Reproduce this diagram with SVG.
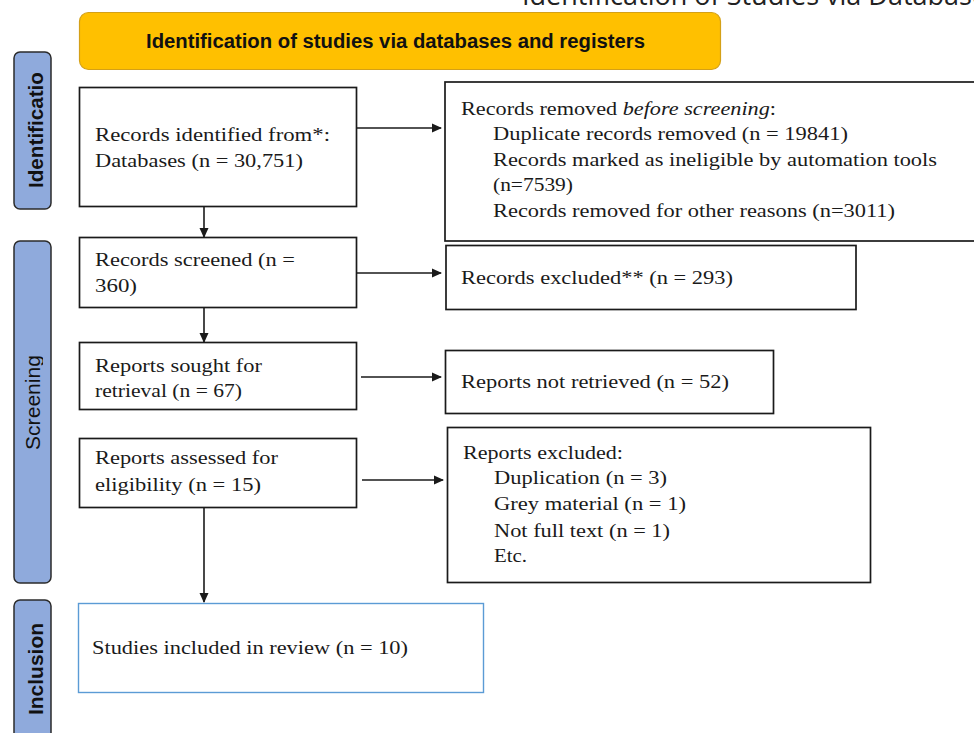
<svg xmlns="http://www.w3.org/2000/svg" width="974" height="733" viewBox="0 0 974 733">
<style>
.box{fill:#fff;stroke:#1a1a1a;stroke-width:1.7}
.blue{fill:#fff;stroke:#5b9bd5;stroke-width:1.4}
.phase{fill:#8faadc;stroke:#2b2b2b;stroke-width:1.5}
.t{font-family:"Liberation Serif","Times New Roman",serif;font-size:19.5px;fill:#1a1a1a}
.ph{font-family:"Liberation Sans Narrow","Liberation Sans",Arial,sans-serif;font-size:20px;fill:#111}
.ln{stroke:#1a1a1a;stroke-width:1.6;fill:none}
</style>
<defs>
<marker id="ah" markerWidth="10" markerHeight="10" refX="9" refY="5" orient="auto" markerUnits="userSpaceOnUse">
<path d="M0,0.5 L10,5 L0,9.5 Z" fill="#1a1a1a"/>
</marker>
<clipPath id="scrClip"><rect x="14" y="241" width="29" height="342"/></clipPath>
</defs>
<rect width="974" height="733" fill="#fff"/>
<text x="522" y="5" font-family="Open Sans, Liberation Sans, sans-serif" font-size="27" fill="#222">Identification of Studies via Databases</text>

<g id="banner">
<rect x="79.5" y="12.5" width="641" height="57" rx="9" fill="#ffc000" stroke="#d4a017" stroke-width="1.2"/>
<text x="146" y="48" font-family="Liberation Sans Narrow, Liberation Sans, Arial, sans-serif" font-weight="bold" font-size="20" fill="#111" textLength="499" lengthAdjust="spacingAndGlyphs">Identification of studies via databases and registers</text>
</g>

<g id="phase-identification">
<rect x="14" y="52" width="37" height="157" rx="6" class="phase"/>
<text class="ph" font-weight="bold" transform="translate(43,188) rotate(-90)" textLength="116" lengthAdjust="spacingAndGlyphs">Identificatio</text>
</g>
<g id="phase-screening">
<rect x="14" y="241" width="37" height="342" rx="6" class="phase"/>
<g clip-path="url(#scrClip)"><text class="ph" font-family="Open Sans, Liberation Sans, sans-serif" font-size="18" transform="translate(40,450) rotate(-90)" textLength="95" lengthAdjust="spacingAndGlyphs">Screening</text></g>
</g>
<g id="phase-inclusion">
<rect x="14" y="600" width="37" height="150" rx="6" class="phase"/>
<text class="ph" font-weight="bold" transform="translate(43,715) rotate(-90)" textLength="92" lengthAdjust="spacingAndGlyphs">Inclusion</text>
</g>

<g id="n-identified">
<rect x="79.5" y="87.5" width="277" height="119" class="box"/>
<text class="t" x="95" y="141" textLength="235" lengthAdjust="spacingAndGlyphs">Records identified from*:</text>
<text class="t" x="95" y="167" textLength="208" lengthAdjust="spacingAndGlyphs">Databases (n = 30,751)</text>
</g>
<g id="n-removed">
<rect x="445" y="82" width="540" height="159" class="box"/>
<text class="t" x="461" y="115" textLength="315" lengthAdjust="spacingAndGlyphs">Records removed <tspan font-style="italic">before screening</tspan>:</text>
<text class="t" x="493" y="140" textLength="355" lengthAdjust="spacingAndGlyphs">Duplicate records removed (n = 19841)</text>
<text class="t" x="493" y="166" textLength="444" lengthAdjust="spacingAndGlyphs">Records marked as ineligible by automation tools</text>
<text class="t" x="493" y="191" textLength="80" lengthAdjust="spacingAndGlyphs">(n=7539)</text>
<text class="t" x="493" y="217" textLength="402" lengthAdjust="spacingAndGlyphs">Records removed for other reasons (n=3011)</text>
</g>
<g id="n-screened">
<rect x="79.5" y="237.5" width="277" height="70" class="box"/>
<text class="t" x="95" y="266" textLength="200" lengthAdjust="spacingAndGlyphs">Records screened (n =</text>
<text class="t" x="95" y="292" textLength="42" lengthAdjust="spacingAndGlyphs">360)</text>
</g>
<g id="n-excluded">
<rect x="446" y="245.5" width="410" height="64" class="box"/>
<text class="t" x="461" y="284" textLength="272" lengthAdjust="spacingAndGlyphs">Records excluded** (n = 293)</text>
</g>
<g id="n-sought">
<rect x="79.5" y="342.5" width="277" height="67" class="box"/>
<text class="t" x="95" y="372" textLength="167" lengthAdjust="spacingAndGlyphs">Reports sought for</text>
<text class="t" x="95" y="397" textLength="147" lengthAdjust="spacingAndGlyphs">retrieval  (n = 67)</text>
</g>
<g id="n-notretrieved">
<rect x="445.5" y="350.5" width="328" height="63" class="box"/>
<text class="t" x="461" y="388" textLength="268" lengthAdjust="spacingAndGlyphs">Reports not retrieved  (n = 52)</text>
</g>
<g id="n-assessed">
<rect x="79.5" y="438.5" width="277" height="69" class="box"/>
<text class="t" x="95" y="464" textLength="183" lengthAdjust="spacingAndGlyphs">Reports assessed for</text>
<text class="t" x="95" y="491" textLength="166" lengthAdjust="spacingAndGlyphs">eligibility  (n = 15)</text>
</g>
<g id="n-reportsexcluded">
<rect x="447.5" y="427.5" width="423" height="155" class="box"/>
<text class="t" x="463" y="459" textLength="160" lengthAdjust="spacingAndGlyphs">Reports excluded:</text>
<text class="t" x="494" y="484" textLength="173" lengthAdjust="spacingAndGlyphs">Duplication (n = 3)</text>
<text class="t" x="494" y="510" textLength="192" lengthAdjust="spacingAndGlyphs">Grey material  (n = 1)</text>
<text class="t" x="494" y="537" textLength="176" lengthAdjust="spacingAndGlyphs">Not full text (n = 1)</text>
<text class="t" x="494" y="562" textLength="33" lengthAdjust="spacingAndGlyphs">Etc.</text>
</g>
<g id="n-included">
<rect x="78.5" y="603.5" width="405" height="89" class="blue"/>
<text class="t" x="92" y="654" textLength="316" lengthAdjust="spacingAndGlyphs">Studies included in review (n = 10)</text>
</g>

<g id="connectors">
<line class="ln" x1="357" y1="128" x2="441" y2="128" marker-end="url(#ah)"/>
<line class="ln" x1="204" y1="207" x2="204" y2="237" marker-end="url(#ah)"/>
<line class="ln" x1="357" y1="273" x2="441" y2="273" marker-end="url(#ah)"/>
<line class="ln" x1="204" y1="308" x2="204" y2="342" marker-end="url(#ah)"/>
<line class="ln" x1="361" y1="377" x2="441" y2="377" marker-end="url(#ah)"/>
<line class="ln" x1="362" y1="480" x2="443" y2="480" marker-end="url(#ah)"/>
<line class="ln" x1="204" y1="508" x2="204" y2="602" marker-end="url(#ah)"/>
</g>
</svg>
